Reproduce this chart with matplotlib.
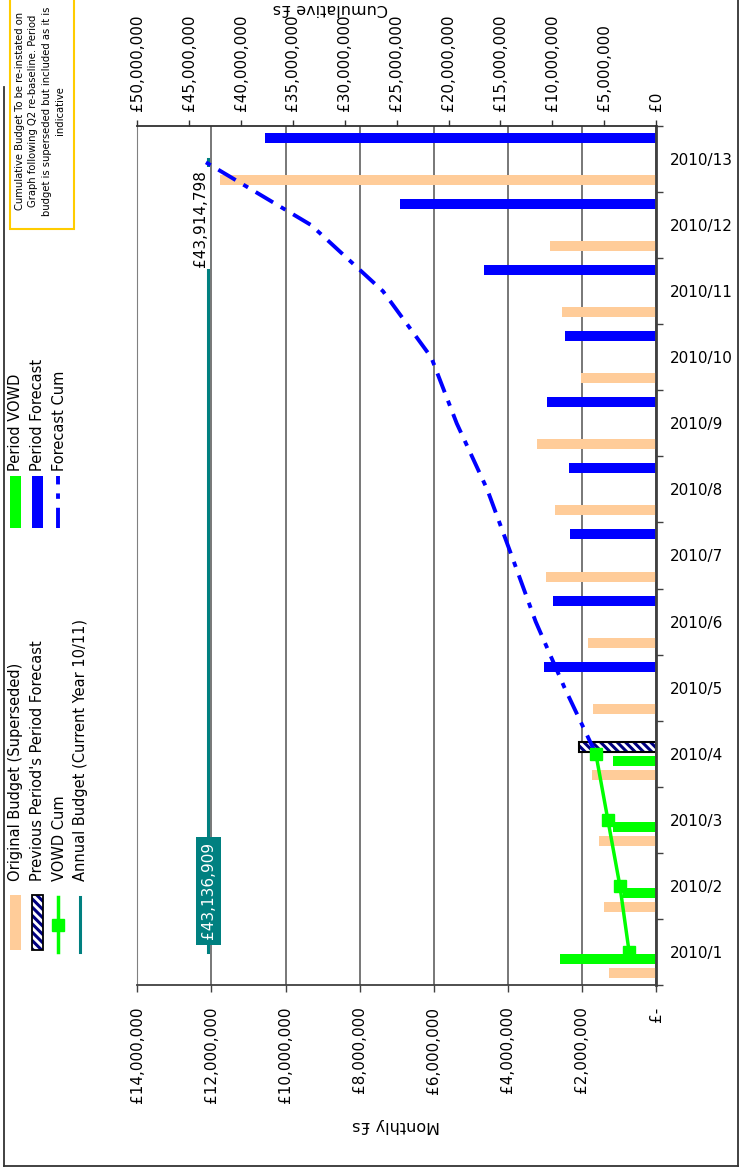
import matplotlib
matplotlib.use('Agg')
import matplotlib.pyplot as plt
from matplotlib.patches import Rectangle
from matplotlib.ticker import FuncFormatter, MultipleLocator
import numpy as np

plt.rcParams['font.family'] = ['DejaVu Sans']
plt.rcParams['hatch.linewidth'] = 2.2

# data (in £)
periods = ['2010/1', '2010/2', '2010/3', '2010/4', '2010/5', '2010/6', '2010/7',
           '2010/8', '2010/9', '2010/10', '2010/11', '2010/12', '2010/13']
original_budget = [1.26e6, 1.40e6, 1.54e6, 1.73e6, 1.70e6, 1.84e6, 2.97e6,
                   2.73e6, 3.21e6, 2.03e6, 2.54e6, 2.86e6, 11.78e6]
vowd_periods = ['2010/1', '2010/2', '2010/3', '2010/4']
vowd = [2.59e6, 0.89e6, 1.16e6, 1.16e6]
prev_forecast_periods = ['2010/4']
prev_forecast = [2.08e6]
forecast_periods = ['2010/5', '2010/6', '2010/7', '2010/8', '2010/9',
                    '2010/10', '2010/11', '2010/12', '2010/13']
period_forecast = [3.02e6, 2.78e6, 2.32e6, 2.35e6, 2.94e6, 2.46e6, 4.65e6, 6.92e6, 10.54e6]
vowd_cum = [2.59e6, 3.48e6, 4.64e6, 5.80e6]
forecast_cum_periods = ['2010/4', '2010/5', '2010/6', '2010/7', '2010/8', '2010/9',
                        '2010/10', '2010/11', '2010/12', '2010/13']
forecast_cum = [5.80e6, 8.82e6, 11.60e6, 13.92e6, 16.27e6, 19.21e6, 21.67e6,
                26.32e6, 33.24e6, 43.914798e6]
annual_budget = 43136909

PEACH = '#FFCC99'
BLUE = '#0000FF'
GREEN = '#00FF00'
TEAL = '#008080'
NAVY = '#000080'

pos = {p: i + 1 for i, p in enumerate(periods)}
W, H = 746, 1168
fig = plt.figure(figsize=(W / 100, H / 100), dpi=100)
ax = fig.add_axes([137.3 / W, 1 - 985 / H, (656 - 137.3) / W, (985 - 126) / H])

bh = 0.151
y_all = np.array([pos[p] for p in periods])
ax.barh(y_all - 0.318, original_budget, height=bh, color=PEACH, lw=0, zorder=2)
ax.barh(np.array([pos[p] for p in vowd_periods]) - 0.106, vowd, height=bh, color=GREEN, lw=0, zorder=2)
y_prev = np.array([pos[p] for p in prev_forecast_periods]) + 0.106
ax.barh(y_prev, prev_forecast, height=bh, color='white', edgecolor=NAVY, hatch='\\\\\\\\', lw=0, zorder=2)
ax.barh(y_prev, prev_forecast, height=bh, fill=False, edgecolor='black', lw=1.5, zorder=2)
ax.barh(np.array([pos[p] for p in forecast_periods]) + 0.318, period_forecast, height=bh,
        color=BLUE, lw=0, zorder=2)

ax.set_xlim(14e6, 0)
ax.set_ylim(0.5, 13.5)
ax.xaxis.set_major_locator(MultipleLocator(2e6))
ax.xaxis.set_major_formatter(FuncFormatter(lambda v, p: '£-' if abs(v) < 1 else '£{:,.0f}'.format(v)))
ax.tick_params(axis='x', labelrotation=90, length=5, width=1, pad=10.5, labelsize=11, color='#404040')
ax.grid(axis='x', color='#606060', lw=1.2)
ax.set_axisbelow(True)

ax.yaxis.tick_right()
ax.set_yticks(np.arange(0.5, 14, 1))
ax.set_yticks(y_all, minor=True)
ax.set_yticklabels(periods, minor=True)
ax.tick_params(axis='y', which='major', length=5, width=1, labelright=False, color='#404040')
ax.tick_params(axis='y', which='minor', length=0, pad=10, labelsize=11, right=True, labelright=True)

ax.spines['left'].set_color('#808080')
ax.spines['bottom'].set_color('#404040')
ax.spines['bottom'].set_linewidth(1.3)
ax.spines['right'].set_color('#404040')
ax.spines['right'].set_linewidth(2)
ax.spines['top'].set_visible(False)

ax2 = ax.twiny()
ax2.set_xlim(50e6, 0)
ax2.set_ylim(0.5, 13.5)
ax2.xaxis.set_major_locator(MultipleLocator(5e6))
ax2.xaxis.set_major_formatter(FuncFormatter(lambda v, p: '£{:,.0f}'.format(v)))
ax2.tick_params(axis='x', labelrotation=90, length=4, width=1, pad=6.5, labelsize=11, color='#303030')
for s in ['left', 'right', 'bottom']:
    ax2.spines[s].set_visible(False)
ax2.spines['top'].set_color('#303030')
ax2.spines['top'].set_linewidth(1.3)

ax2.plot([annual_budget] * len(periods), y_all, color=TEAL, lw=2.2, zorder=3)
ax2.plot(forecast_cum, [pos[p] for p in forecast_cum_periods], color=BLUE, lw=2.8,
         linestyle=(0, (5.2, 2.3, 1.4, 2.3)), zorder=3)
ax2.plot(vowd_cum, [pos[p] for p in vowd_periods], color=GREEN, lw=2.5, marker='s', ms=8.5, zorder=4)

ax2.annotate('£{:,.0f}'.format(annual_budget), xy=(annual_budget, 1), xytext=(0, 44),
             textcoords='offset points', rotation=90, ha='center', va='center', color='white',
             fontsize=11, zorder=6, bbox=dict(boxstyle='square,pad=0.35', fc=TEAL, ec='none'))
ax2.annotate('£{:,.0f}'.format(forecast_cum[-1]), xy=(forecast_cum[-1], pos[forecast_cum_periods[-1]]),
             xytext=(0, -42.5), textcoords='offset points', rotation=90, ha='center', va='center',
             color='black', fontsize=11, zorder=6,
             bbox=dict(boxstyle='square,pad=0.15', fc='white', ec='none'))

# overlay in pixel coordinates for legend, note, titles, border
axo = fig.add_axes([0, 0, 1, 1])
axo.set_xlim(0, W)
axo.set_ylim(H, 0)
axo.axis('off')
axo.patch.set_visible(False)

axo.text(330, 9, 'Cumulative £s', rotation=180, ha='center', va='center', fontsize=11.5)
axo.text(396, 1126, 'Monthly £s', rotation=180, ha='center', va='center', fontsize=11.5)

# note box
axo.add_patch(Rectangle((10, -7), 64, 236, fc='white', ec='#FFCC00', lw=1.5))
axo.text(40, 111, 'Cumulative Budget To be re-instated on\nGraph following Q2 re-baseline. Period\n'
         'budget is superseded but included as it is\nindicative',
         rotation=90, ha='center', va='center', multialignment='center', fontsize=7.2, linespacing=1.4)

# legend
axo.add_patch(Rectangle((10, 895), 11, 55, fc=PEACH, ec='none'))
axo.add_patch(Rectangle((32, 895), 11, 55, fc='white', ec=NAVY, hatch='\\\\\\\\', lw=0))
axo.add_patch(Rectangle((32, 895), 11, 55, fill=False, ec='black', lw=1.3))
axo.plot([58, 58], [897, 952], color=GREEN, lw=2.5)
axo.plot([58], [925], color=GREEN, marker='s', ms=8.5)
axo.plot([80, 80], [897, 952], color=TEAL, lw=2.2)
axo.add_patch(Rectangle((10, 476), 11, 52, fc=GREEN, ec='none'))
axo.add_patch(Rectangle((32, 476), 11, 52, fc=BLUE, ec='none'))
axo.plot([58, 58], [528, 476], color=BLUE, lw=2.8, linestyle=(0, (5.2, 2.3, 1.4, 2.3)))

leg1 = ['Original Budget (Superseded)', "Previous Period's Period Forecast", 'VOWD Cum',
        'Annual Budget (Current Year 10/11)']
leg2 = ['Period VOWD', 'Period Forecast', 'Forecast Cum']
cols = [16, 37.5, 59, 81]
for x, t in zip(cols, leg1):
    axo.text(x, 881, t, rotation=90, ha='center', va='bottom', fontsize=10.5)
for x, t in zip(cols, leg2):
    axo.text(x, 471, t, rotation=90, ha='center', va='bottom', fontsize=10.5)

# outer border
bc = '#333333'
axo.plot([4, 4], [87, 1166], color=bc, lw=1.3)
axo.plot([4, 738], [1166, 1166], color=bc, lw=1.3)
axo.plot([738, 738], [0, 1166], color=bc, lw=1.3)

fig.savefig('out.png', dpi=100)
